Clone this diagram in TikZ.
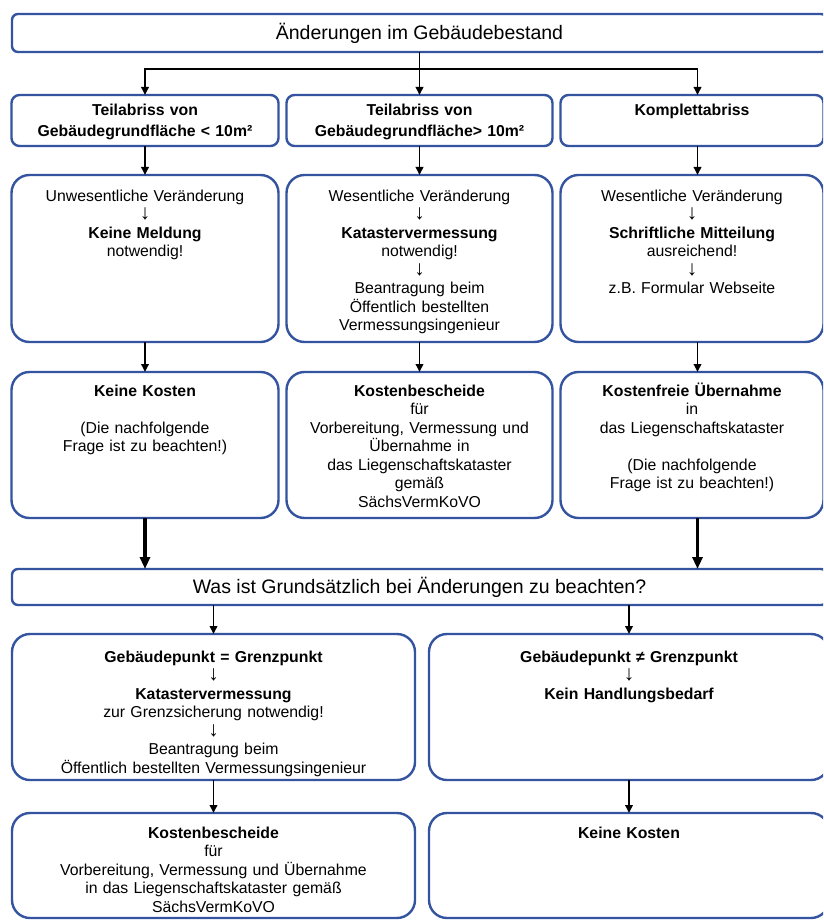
\documentclass[tikz,border=0pt]{standalone}
\usepackage{fontspec}
\setmainfont{Liberation Sans}
\usetikzlibrary{arrows.meta,positioning}
\definecolor{kblue}{RGB}{52,84,160}
\newcommand\bodyfont{\fontsize{15.8}{18.5}\selectfont}
\newcommand\headfont{\fontsize{19.5}{23}\selectfont}
\newcommand\dn{{\fontsize{21}{18.5}\selectfont\mdseries ↓}}
\tikzset{
  hdr/.style={draw=kblue,line width=2.4pt,fill=white,rounded corners=6pt,
              minimum width=815pt,minimum height=#1,inner sep=0pt,
              outer sep=0pt,font=\headfont},
  cbox/.style={draw=kblue,line width=2.4pt,fill=white,rounded corners=18pt,
               inner sep=0pt,outer sep=0pt,align=center,font=\bodyfont},
  rowone/.style={cbox,rounded corners=8pt,font=\bodyfont\bfseries,
                 text height=21pt,text depth=30pt},
  rowtwo/.style={cbox,text height=26pt,text depth=141pt},
  rowthree/.style={cbox,text height=24pt,text depth=122pt},
  rowfour/.style={cbox,text height=28pt,text depth=118pt},
  rowfive/.style={cbox,text height=25pt,text depth=80pt},
  colA/.style={text width=267pt},
  colB/.style={text width=266pt},
  colC/.style={text width=263pt},
  colL/.style={text width=403pt},
  colR/.style={text width=400pt},
  arr/.style={-{Triangle[length=8pt,width=7.5pt]},line width=1.8pt},
  arrbig/.style={-{Triangle[length=12pt,width=10pt]},line width=3.2pt},
}
\begin{document}
\begin{tikzpicture}[x=1pt,y=1pt]
  \useasboundingbox (0,0) rectangle (823,-920);
  \fill[white] (0,0) rectangle (823,-920);
  \clip (0,0) rectangle (823,-920);

  \node[hdr=38pt] (title) at (419.5,-33) {Änderungen im Gebäudebestand};

  % Art des Abrisses
  \node[rowone,colB,below=43pt of title] (tB) {Teilabriss von\\[2.5pt]Gebäudegrundfläche> 10m²};
  \node[rowone,colA,left=8pt of tB]      (tA) {Teilabriss von\\[2.5pt]Gebäudegrundfläche < 10m²};
  \node[rowone,colC,right=8pt of tB]     (tC) {Komplettabriss};

  % Veraenderung
  \node[rowtwo,colB,below=29pt of tB] (mB) {Wesentliche Veränderung\\\dn\\\textbf{Katastervermessung}\\notwendig!\\\dn\\Beantragung beim\\Öffentlich bestellten\\Vermessungsingenieur};
  \node[rowtwo,colA,left=8pt of mB]   (mA) {Unwesentliche Veränderung\\\dn\\\textbf{Keine Meldung}\\notwendig!};
  \node[rowtwo,colC,right=8pt of mB]  (mC) {Wesentliche Veränderung\\\dn\\\textbf{Schriftliche Mitteilung}\\ausreichend!\\\dn\\z.B. Formular Webseite};

  % Kosten
  \node[rowthree,colB,below=30pt of mB] (kB) {\textbf{Kostenbescheide}\\für\\Vorbereitung, Vermessung und\\Übernahme in\\das Liegenschaftskataster\\gemäß\\SächsVermKoVO};
  \node[rowthree,colA,left=8pt of kB]   (kA) {\textbf{Keine Kosten}\\[18.5pt](Die nachfolgende\\Frage ist zu beachten!)};
  \node[rowthree,colC,right=8pt of kB]  (kC) {\textbf{Kostenfreie Übernahme}\\in\\das Liegenschaftskataster\\[18.5pt](Die nachfolgende\\Frage ist zu beachten!)};

  \node[hdr=36pt,below=51pt of kB] (frage) {Was ist Grundsätzlich bei Änderungen zu beachten?};

  % Grenzpunkt
  \node[rowfour,colL,below=29pt of frage.south west,anchor=north west] (gL) {\textbf{Gebäudepunkt = Grenzpunkt}\\\dn\\\textbf{Katastervermessung}\\zur Grenzsicherung notwendig!\\\dn\\Beantragung beim\\Öffentlich bestellten Vermessungsingenieur};
  \node[rowfour,colR,right=14pt of gL] (gR) {\textbf{Gebäudepunkt ≠ Grenzpunkt}\\\dn\\\textbf{Kein Handlungsbedarf}};

  \node[rowfive,colL,below=33pt of gL] (hL) {\textbf{Kostenbescheide}\\für\\Vorbereitung, Vermessung und Übernahme\\in das Liegenschaftskataster gemäß\\SächsVermKoVO};
  \node[rowfive,colR,below=33pt of gR] (hR) {\textbf{Keine Kosten}};

  % Verzweigung oben
  \coordinate (split) at ([yshift=-17pt]title.south);
  \draw[line width=1.8pt] (title.south) -- (split);
  \draw[arr] (split) -| (tA.north);
  \draw[arr] (split) -- (split -| tB.north) -- (tB.north);
  \draw[arr] (split) -| ([xshift=5.5pt]tC.north);

  % Spalten
  \draw[arr] (tA.south) -- (mA.north);
  \draw[arr] (tB.south) -- (mB.north);
  \draw[arr] ([xshift=5.5pt]tC.south) -- ([xshift=5.5pt]mC.north);
  \draw[arr] (mA.south) -- (kA.north);
  \draw[arr] (mB.south) -- (kB.north);
  \draw[arr] ([xshift=5.5pt]mC.south) -- ([xshift=5.5pt]kC.north);

  \draw[arrbig] (kA.south) -- (kA.south |- frage.north);
  \draw[arrbig] ([xshift=5.5pt]kC.south) -- ([xshift=5.5pt]kC.south |- frage.north);

  \draw[arr] (frage.south -| gL.north) -- (gL.north);
  \draw[arr] (frage.south -| gR.north) -- (gR.north);
  \draw[arr] (gL.south) -- (hL.north);
  \draw[arr] (gR.south) -- (hR.north);
\end{tikzpicture}
\end{document}
